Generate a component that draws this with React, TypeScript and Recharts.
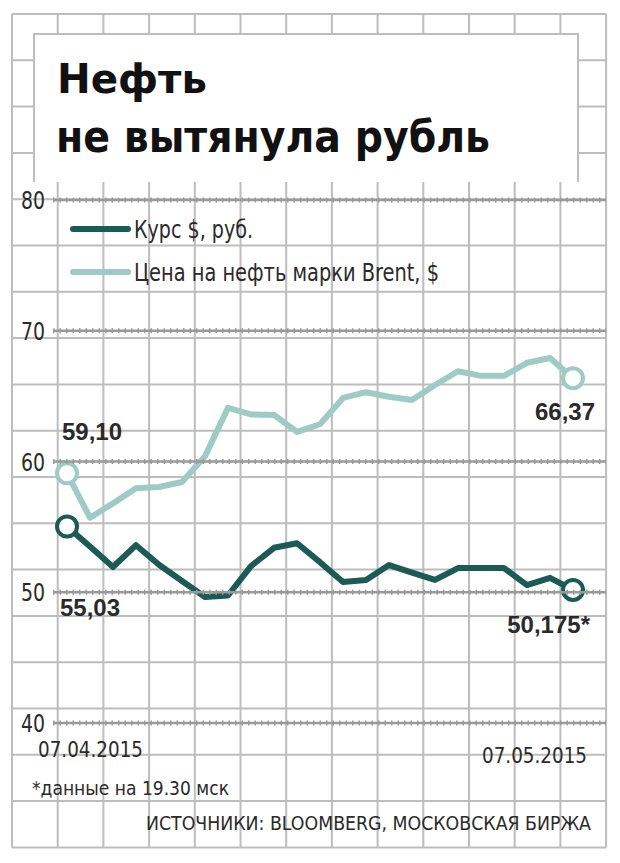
import React from "react";
import { LineChart, Line, XAxis, YAxis, Legend } from "recharts";

const dates = [
  "07.04.2015", "08.04.2015", "09.04.2015", "10.04.2015", "13.04.2015", "14.04.2015",
  "15.04.2015", "16.04.2015", "17.04.2015", "20.04.2015", "21.04.2015", "22.04.2015",
  "23.04.2015", "24.04.2015", "27.04.2015", "28.04.2015", "29.04.2015", "30.04.2015",
  "01.05.2015", "04.05.2015", "05.05.2015", "06.05.2015", "07.05.2015",
];

const brent = [
  59.1, 55.7, 56.8, 57.95, 58.05, 58.43, 60.4, 64.1, 63.6, 63.56, 62.26, 62.85,
  64.86, 65.3, 64.95, 64.7, 65.85, 66.9, 66.55, 66.55, 67.55, 67.92, 66.37,
];

const rub = [
  55.03, 53.5, 51.93, 53.6, 52.1, 50.86, 49.64, 49.75, 52.0, 53.4, 53.75, 52.3,
  50.78, 50.94, 52.08, 51.5, 50.94, 51.85, 51.85, 51.85, 50.55, 51.1, 50.175,
];

const yTicks = [40, 50, 60, 70, 80];
const brentLabels: Record<number, string> = { 0: "59,10", 22: "66,37" };
const rubLabels: Record<number, string> = { 0: "55,03", 22: "50,175*" };

const seriesNames = { rub: "Курс $, руб.", brent: "Цена на нефть марки Brent, $" };
const titleLines = ["Нефть", "не вытянула рубль"];
const footnote = "*данные на 19.30 мск";
const sources = "ИСТОЧНИКИ: BLOOMBERG, МОСКОВСКАЯ БИРЖА";

const data = dates.map((d, i) => ({ date: d, brent: brent[i], rub: rub[i] }));

const DARK = "#1b5a55";
const LIGHT = "#9ecbc4";
const GRID = "#bdbdbd";
const TEXT = "#2a2a2a";
const NARROW = "'Liberation Sans Narrow','DejaVu Sans Condensed','Roboto Condensed',sans-serif";
const BOLD = "'Liberation Sans',Arial,sans-serif";

const YTick = (props: any) => {
  const { y, payload } = props;
  return (
    <g>
      <line x1={53} x2={606} y1={y} y2={y} stroke="#9a9a9a" strokeWidth={2.5} />
      <line x1={53} x2={606} y1={y} y2={y} stroke="#9a9a9a" strokeWidth={5} strokeDasharray="1.5 5" />
      <text x={45} y={y} dy={9} textAnchor="end" fontSize={24} fill={TEXT} fontFamily={NARROW} textLength={24} lengthAdjust="spacingAndGlyphs">
        {payload.value}
      </text>
    </g>
  );
};

const DateTick = (props: any) => {
  const { x, payload } = props;
  if (payload.value === dates[0]) {
    return (
      <text x={x - 29} y={757} fontSize={21} fill={TEXT} fontFamily={NARROW} textLength={105} lengthAdjust="spacingAndGlyphs">
        {payload.value}
      </text>
    );
  }
  if (payload.value === dates[dates.length - 1]) {
    return (
      <text x={x + 14 - 105} y={763} fontSize={21} fill={TEXT} fontFamily={NARROW} textLength={105} lengthAdjust="spacingAndGlyphs">
        {payload.value}
      </text>
    );
  }
  return <g />;
};

const makeDot = (color: string) => (props: any) => {
  const { cx, cy, index } = props;
  if (index === 0 || index === dates.length - 1) {
    return <circle key={index} cx={cx} cy={cy} r={10} fill="#fff" stroke={color} strokeWidth={4} />;
  }
  return <g key={index} />;
};

const makeLabel = (labels: Record<number, string>, pos: Record<number, [number, number, string]>) => (props: any) => {
  const { x, y, index } = props;
  const txt = labels[index];
  if (!txt) return <g key={index} />;
  const [dx, dy, anchor] = pos[index];
  return (
    <text key={index} x={x + dx} y={y + dy} textAnchor={anchor as any} fontSize={24} fontWeight="bold" fill={TEXT} fontFamily={BOLD}>
      {txt}
    </text>
  );
};

const brentLabel = makeLabel(brentLabels, { 0: [-5, -33, "start"], 22: [22, 42, "end"] });
const rubLabel = makeLabel(rubLabels, { 0: [-7, 90, "start"], 22: [17, 43, "end"] });

const LegendContent = (props: any) => {
  const { payload } = props;
  const items = [...(payload || [])].sort((a: any) => (a.dataKey === "rub" ? -1 : 1));
  const widths: Record<string, number> = { rub: 119, brent: 305 };
  return (
    <svg width={420} height={80}>
      {items.map((it: any, i: number) => {
        const y = 19 + i * 43;
        return (
          <g key={it.dataKey}>
            <line x1={16} x2={71} y1={y} y2={y} stroke={it.color} strokeWidth={6} strokeLinecap="round" />
            <text x={77} y={y + 9} fontSize={24} fill={TEXT} fontFamily={NARROW} textLength={widths[it.dataKey]} lengthAdjust="spacingAndGlyphs">
              {it.value}
            </text>
          </g>
        );
      })}
    </svg>
  );
};

const Background = () => {
  const vx: number[] = [];
  for (let k = 0; k <= 13; k++) vx.push(12 + k * 45.7);
  const hy: number[] = [];
  for (let k = 0; k <= 18; k++) hy.push(14 + k * 46.3);
  return (
    <svg width={620} height={863} style={{ position: "absolute", left: 0, top: 0 }}>
      <rect x={0} y={0} width={620} height={863} fill="#fff" />
      {vx.map((x, i) => (
        <line key={"v" + i} x1={x} x2={x} y1={14} y2={847.4} stroke={GRID} strokeWidth={2} />
      ))}
      {hy.map((y, i) => (
        <line key={"h" + i} x1={12} x2={606.1} y1={y} y2={y} stroke={GRID} strokeWidth={2} />
      ))}
      <rect x={34} y={34} width={544} height={148} fill="#fff" />
      <path d="M34 182 L34 34 L578 34 L578 182" fill="none" stroke={GRID} strokeWidth={2} />
      <text x={57} y={93} fontSize={40} fontWeight="bold" fill="#111" fontFamily="'DejaVu Sans',sans-serif" textLength={150} lengthAdjust="spacingAndGlyphs">
        {titleLines[0]}
      </text>
      <text x={56} y={152} fontSize={44} fontWeight="bold" fill="#111" fontFamily="'DejaVu Sans',sans-serif" textLength={434} lengthAdjust="spacingAndGlyphs">
        {titleLines[1]}
      </text>
      <text x={32} y={795} fontSize={20} fill={TEXT} fontFamily={NARROW} textLength={197} lengthAdjust="spacingAndGlyphs">
        {footnote}
      </text>
      <text x={146} y={830} fontSize={19} fill={TEXT} fontFamily={NARROW} textLength={445} lengthAdjust="spacingAndGlyphs">
        {sources}
      </text>
    </svg>
  );
};

export default function App() {
  return (
    <div style={{ position: "relative", width: 620, height: 863, background: "#fff", overflow: "hidden" }}>
      <style>{"html,body{margin:0;padding:0;}"}</style>
      <Background />
      <div style={{ position: "absolute", left: 0, top: 0 }}>
        <LineChart width={620} height={863} data={data} margin={{ top: 200, right: 47, bottom: 110, left: 66 }}>
          <XAxis dataKey="date" height={30} axisLine={false} tickLine={false} interval={0} tick={<DateTick />} />
          <YAxis domain={[40, 80]} ticks={yTicks} width={1} axisLine={false} tickLine={false} tick={<YTick />} interval={0} />
          <Legend
            layout="horizontal"
            verticalAlign="middle"
            align="center"
            content={<LegendContent />}
            wrapperStyle={{ position: "absolute", left: 57, top: 210, width: 420, height: 80 }}
          />
          <Line
            dataKey="brent"
            name={seriesNames.brent}
            stroke={LIGHT}
            strokeWidth={6}
            strokeLinejoin="round"
            dot={makeDot(LIGHT)}
            activeDot={false}
            label={brentLabel}
            isAnimationActive={false}
          />
          <Line
            dataKey="rub"
            name={seriesNames.rub}
            stroke={DARK}
            strokeWidth={6}
            strokeLinejoin="round"
            dot={makeDot(DARK)}
            activeDot={false}
            label={rubLabel}
            isAnimationActive={false}
          />
        </LineChart>
      </div>
    </div>
  );
}
